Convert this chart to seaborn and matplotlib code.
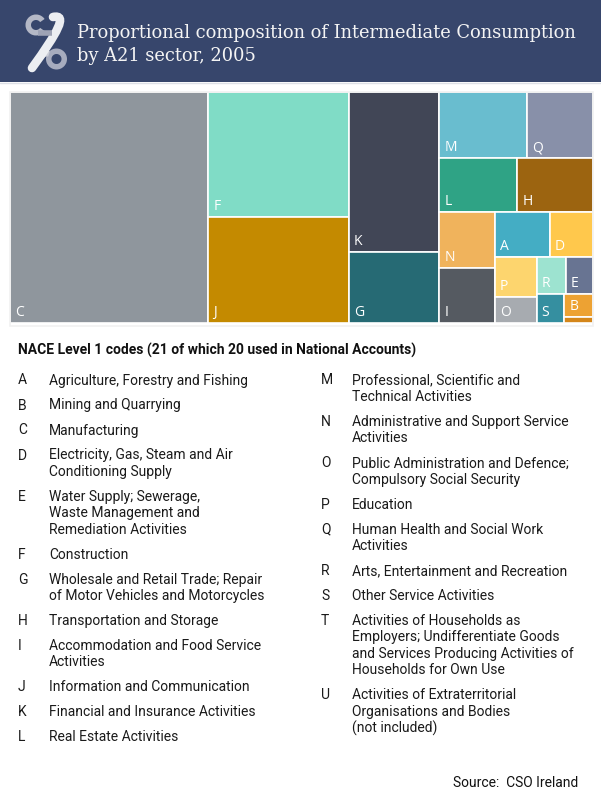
import matplotlib
matplotlib.use("Agg")
import matplotlib.pyplot as plt
from matplotlib.patches import Rectangle, Wedge, PathPatch
from matplotlib.path import Path
import seaborn as sns

# share of intermediate consumption by A21 sector, 2005 (% of total)
codes = ["C", "F", "J", "K", "G", "M", "Q", "L", "H", "N",
         "I", "A", "D", "P", "O", "R", "E", "S", "B", "T"]
shares = [34.03, 13.10, 11.10, 10.68, 4.79, 4.33, 3.21, 3.11, 2.98, 2.33,
          2.29, 1.83, 1.43, 1.24, 0.83, 0.81, 0.74, 0.60, 0.48, 0.13]
colours = ["#8f969d", "#80dcc6", "#c48a00", "#414656", "#266a74",
           "#69bdcf", "#8890a9", "#2fa385", "#9c6410", "#f0b35c",
           "#555a61", "#44adc4", "#ffc84c", "#fdd56e", "#a7abb0",
           "#9de3d0", "#687492", "#358fa0", "#eda233", "#d4861a"]

left_codes = ["A", "B", "C", "D", "E", "F", "G", "H", "I", "J", "K", "L"]
left_names = [
    "Agriculture, Forestry and Fishing",
    "Mining and Quarrying",
    "Manufacturing",
    "Electricity, Gas, Steam and Air\nConditioning Supply",
    "Water Supply; Sewerage,\nWaste Management and\nRemediation Activities",
    "Construction",
    "Wholesale and Retail Trade; Repair\nof Motor Vehicles and Motorcycles",
    "Transportation and Storage",
    "Accommodation and Food Service\nActivities",
    "Information and Communication",
    "Financial and Insurance Activities",
    "Real Estate Activities",
]
right_codes = ["M", "N", "O", "P", "Q", "R", "S", "T", "U"]
right_names = [
    "Professional, Scientific and\nTechnical Activities",
    "Administrative and Support Service\nActivities",
    "Public Administration and Defence;\nCompulsory Social Security",
    "Education",
    "Human Health and Social Work\nActivities",
    "Arts, Entertainment and Recreation",
    "Other Service Activities",
    "Activities of Households as\nEmployers; Undifferentiate Goods\n"
    "and Services Producing Activities of\nHouseholds for Own Use",
    "Activities of Extraterritorial\nOrganisations and Bodies\n(not included)",
]

title = ["Proportional composition of Intermediate Consumption", "by A21 sector, 2005"]
heading = "NACE Level 1 codes (21 of which 20 used in National Accounts)"
source = "Source:  CSO Ireland"


# --- squarified treemap layout (Bruls et al.) ---
def layout(sizes, x, y, dx, dy):
    covered = sum(sizes)
    rects = []
    if dx >= dy:
        w = covered / dy
        for s in sizes:
            rects.append((x, y, w, s / w))
            y += s / w
    else:
        h = covered / dx
        for s in sizes:
            rects.append((x, y, s / h, h))
            x += s / h
    return rects


def leftover(sizes, x, y, dx, dy):
    covered = sum(sizes)
    if dx >= dy:
        w = covered / dy
        return x + w, y, dx - w, dy
    h = covered / dx
    return x, y + h, dx, dy - h


def worst(sizes, x, y, dx, dy):
    return max(max(w / h, h / w) for _, _, w, h in layout(sizes, x, y, dx, dy))


def squarify(sizes, x, y, dx, dy):
    if not sizes:
        return []
    if len(sizes) == 1:
        return layout(sizes, x, y, dx, dy)
    i = 1
    while i < len(sizes) and worst(sizes[:i], x, y, dx, dy) >= worst(sizes[:i + 1], x, y, dx, dy):
        i += 1
    nx, ny, ndx, ndy = leftover(sizes[:i], x, y, dx, dy)
    return layout(sizes[:i], x, y, dx, dy) + squarify(sizes[i:], nx, ny, ndx, ndy)


sns.set_theme(style="white")
plt.rcParams["font.family"] = ["Roboto", "DejaVu Sans"]

fig = plt.figure(figsize=(6.01, 8.0), dpi=100)
fig.patch.set_facecolor("white")

# page axes in pixel units for header, key and source
bg = fig.add_axes([0, 0, 1, 1])
bg.set_xlim(0, 601)
bg.set_ylim(800, 0)
bg.axis("off")

bg.add_patch(Rectangle((0, 0), 601, 82, color="#37466c", lw=0))
bg.plot([0, 601], [82.5, 82.5], color="#dde0e6", lw=1)

# CSO logo (rough ribbon shape)
bg.add_patch(Wedge((36, 25), 10.5, 35, 325, width=5.5, color="#b4b8c6", lw=0))
bg.plot([38, 52], [32.5, 32.5], color="#9ea3b5", lw=4, solid_capstyle="butt")
bg.add_patch(Wedge((56.5, 59), 10.5, 0, 360, width=5.5, color="#a7acbe", lw=0))
bg.add_patch(PathPatch(Path([(33, 67), (38, 58), (44, 52), (49, 54)],
                            [Path.MOVETO, Path.CURVE4, Path.CURVE4, Path.CURVE4]),
                       fill=False, edgecolor="#c9ccd6", lw=4, capstyle="butt"))
bg.add_patch(PathPatch(Path([(53, 17), (68, 14), (58, 32), (32, 68)],
                            [Path.MOVETO, Path.CURVE4, Path.CURVE4, Path.CURVE4]),
                       fill=False, edgecolor="#eceef2", lw=6.2, capstyle="round"))

bg.text(77, 38, title[0], family="DejaVu Serif", fontsize=12.9, color="#f4f4f4", va="baseline")
bg.text(77, 61, title[1], family="DejaVu Serif", fontsize=12.9, color="#f4f4f4", va="baseline")

bg.text(18, 355, heading, fontsize=10, fontweight="bold", color="#111111", va="baseline")


def draw_key(codes_, names_, x_code, x_name, y):
    for c, n in zip(codes_, names_):
        bg.text(x_code, y, c, fontsize=10, color="#1a1a1a", va="baseline")
        for line in n.split("\n"):
            bg.text(x_name, y, line, fontsize=10, color="#1a1a1a", va="baseline")
            y += 16.4
        y += 8.6


draw_key(left_codes, left_names, 18, 49, 384.5)
draw_key(right_codes, right_names, 321, 352, 384.5)

bg.text(578, 787, source, fontsize=10, color="#111111", ha="right", va="baseline")

# treemap
W, H = 582.5, 231.3
ax = fig.add_axes([10 / 601, 1 - 323.3 / 800, W / 601, H / 800])
ax.set_xlim(0, W)
ax.set_ylim(H, 0)
ax.set_facecolor("none")
for sp in ax.spines.values():
    sp.set_visible(False)
ax.set_xticks([])
ax.set_yticks([])

total = sum(shares)
areas = [s * W * H / total for s in shares]
rects = squarify(areas, 0, 0, W, H)
for (x, y, w, h), code, col in zip(rects, codes, colours):
    ax.add_patch(Rectangle((x, y), w, h, facecolor=col, edgecolor="white", lw=1.2))
    if w > 12 and h > 14:
        ax.annotate(code, (x, y + h), xytext=(3.6, 5), textcoords="offset points",
                    family="Open Sans", fontsize=10, color="white", va="baseline")

ax.add_patch(Rectangle((0, 0), W, H + 2.5, fill=False, edgecolor="#f1f1f1", lw=1.2,
                       clip_on=False))

fig.savefig("out.png", dpi=100)
